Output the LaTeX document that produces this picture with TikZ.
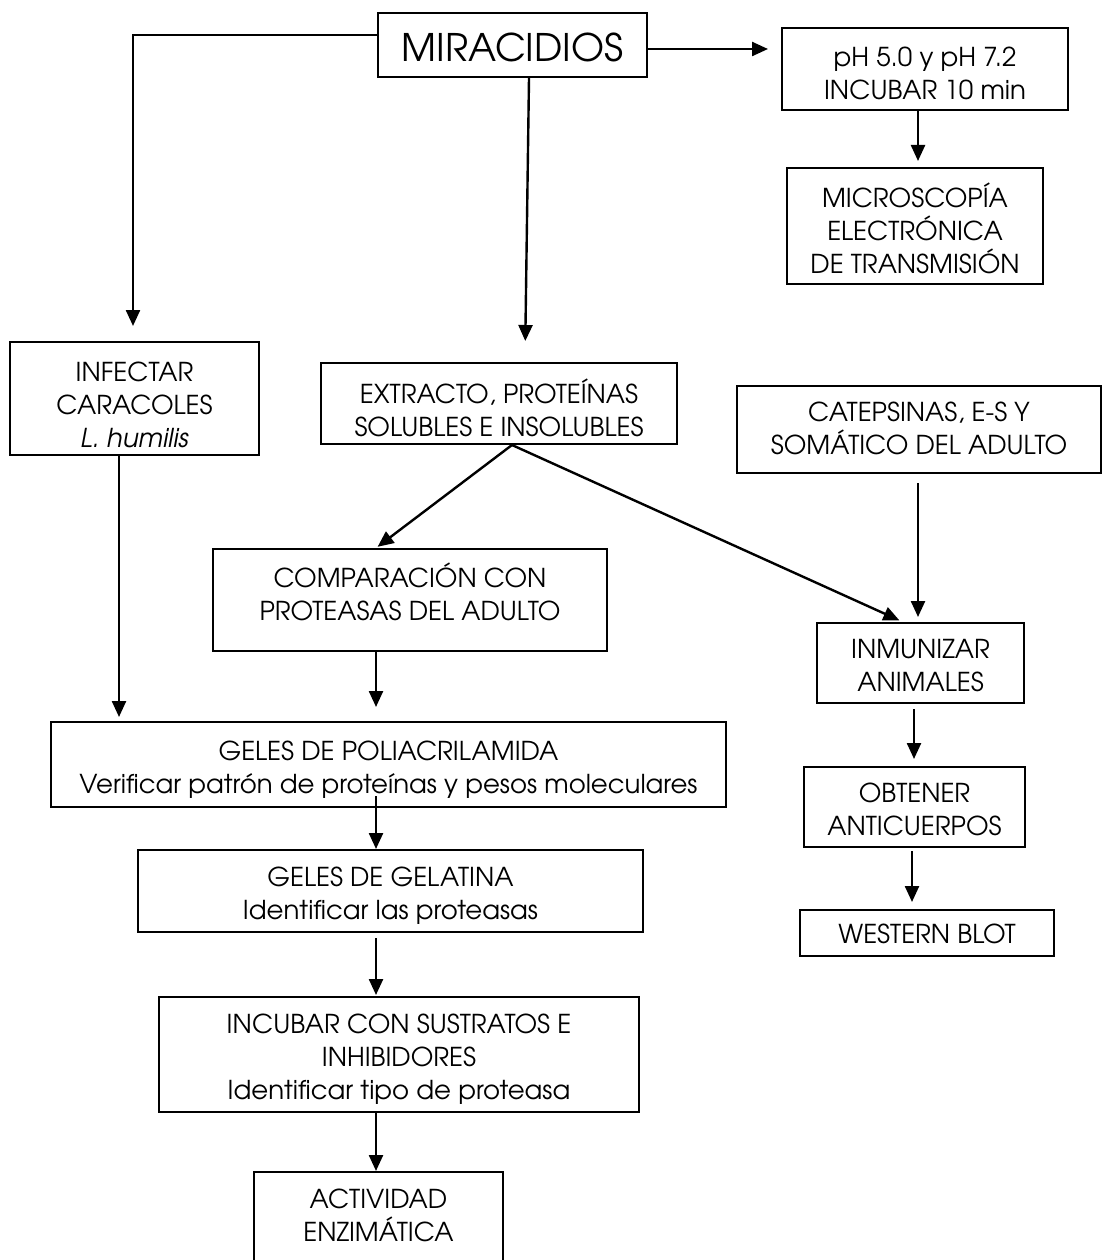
\documentclass[tikz,border=0pt]{standalone}
\usepackage{fontspec}
\setmainfont{texgyreadventor}[Extension=.otf, UprightFont=*-regular, ItalicFont=*-italic, BoldFont=*-bold, BoldItalicFont=*-bolditalic]
\usetikzlibrary{arrows.meta,calc}
\newcommand\lstrut{\rule[-8pt]{0pt}{25pt}}
\tikzset{
  box/.style={draw=black, line width=2pt, inner sep=0pt, rectangle},
  txt/.style={inner sep=0pt, align=center, font=\fontsize{26}{33}\selectfont},
  bigtxt/.style={inner sep=0pt, align=center, font=\fontsize{38}{44}\selectfont},
  arr/.style={line width=2.4pt, -{Triangle[length=16pt,width=14pt]}},
}
\begin{document}
\begin{tikzpicture}[x=1pt,y=-1pt]
\useasboundingbox (0,0) rectangle (1102,1260);
\clip (0,0) rectangle (1102,1260);
% boxes
\node[box, minimum width=269pt, minimum height=64pt] (mir) at (512.5,45) {};
\node[box, minimum width=286pt, minimum height=82pt] (ph) at (925,69) {};
\node[box, minimum width=256pt, minimum height=116pt] (mi) at (915,226) {};
\node[box, minimum width=249pt, minimum height=113pt] (inf) at (134.5,398.5) {};
\node[box, minimum width=356pt, minimum height=81pt] (ext) at (499,403.5) {};
\node[box, minimum width=364pt, minimum height=87pt] (cat) at (919,429.5) {};
\node[box, minimum width=394pt, minimum height=102pt] (comp) at (410,600) {};
\node[box, minimum width=207pt, minimum height=80pt] (inm) at (920.5,663) {};
\node[box, minimum width=221pt, minimum height=80pt] (obt) at (914.5,807) {};
\node[box, minimum width=254pt, minimum height=46pt] (wb) at (927,933) {};
\node[box, minimum width=675pt, minimum height=85pt] (poli) at (388.5,764.5) {};
\node[box, minimum width=505pt, minimum height=82pt] (gel) at (390.5,891) {};
\node[box, minimum width=480pt, minimum height=115pt] (inc) at (399,1054.5) {};
\node[box, minimum width=249pt, minimum height=103pt] (act) at (378.5,1223.5) {};
% texts
\node[bigtxt, anchor=base] (mir-t) at (512.5,62) {MIRACIDIOS};
\node[txt] (ph-t) at (925,77) {\lstrut pH 5.0 y pH 7.2\\\lstrut INCUBAR 10 min};
\node[txt] (mi-t) at (915,232) {\lstrut MICROSCOPÍA\\\lstrut ELECTRÓNICA\\\lstrut DE TRANSMISIÓN};
\node[txt] (inf-t) at (134.5,409) {\lstrut INFECTAR\\\lstrut CARACOLES\\\lstrut\textit{L. humilis}};
\node[txt] (ext-t) at (499,412) {\lstrut EXTRACTO, PROTEÍNAS\\\lstrut SOLUBLES E INSOLUBLES};
\node[txt] (cat-t) at (919,432) {\lstrut CATEPSINAS, E-S Y\\\lstrut SOMÁTICO DEL ADULTO};
\node[txt] (comp-t) at (410,596) {\lstrut COMPARACIÓN CON\\\lstrut PROTEASAS DEL ADULTO};
\node[txt] (inm-t) at (920.5,669) {\lstrut INMUNIZAR\\\lstrut ANIMALES};
\node[txt] (obt-t) at (914.5,813) {\lstrut OBTENER\\\lstrut ANTICUERPOS};
\node[txt] (wb-t) at (927,938) {\lstrut WESTERN BLOT};
\node[txt] (poli-t) at (388.5,771) {\lstrut GELES DE POLIACRILAMIDA\\\lstrut Verificar patrón de proteínas y pesos moleculares};
\node[txt] (gel-t) at (390.5,897) {\lstrut GELES DE GELATINA\\\lstrut Identificar las proteasas};
\node[txt] (inc-t) at (399,1061) {\lstrut INCUBAR CON SUSTRATOS E\\\lstrut INHIBIDORES\\\lstrut Identificar tipo de proteasa};
\node[txt] (act-t) at (378.5,1219) {\lstrut ACTIVIDAD\\\lstrut ENZIMÁTICA};
% connectors
\draw[arr, shorten >=15pt] ([yshift=10pt]mir.west) -| ([xshift=-1.5pt]inf.north);
\draw[arr, shorten >=21pt] ([xshift=16.5pt]mir.south) -- ([xshift=26pt]ext.north);
\draw[arr, shorten >=13pt] ([yshift=-4pt]mir.east) -- ([yshift=-4pt]mir.east -| ph.west);
\draw[arr, shorten >=6pt] ([xshift=-7pt]ph.south) -- ([xshift=-7pt]ph.south |- mi.north);
\draw[arr, shorten >=4pt] ([xshift=-15.5pt]inf.south) -- ([xshift=-15.5pt]inf.south |- poli.north);
\draw[arr, shorten >=2pt] ([xshift=13pt]ext.south) -- ([xshift=-34pt]comp.north);
\draw[arr, shorten >=4pt] ([xshift=13pt]ext.south) -- ([xshift=-17.5pt]inm.north);
\draw[arr, shorten <=9pt, shorten >=5pt] ([xshift=-1pt]cat.south) -- ([xshift=-1pt]cat.south |- inm.north);
\draw[arr, shorten <=5pt, shorten >=7pt] ([xshift=-6.5pt]inm.south) -- ([xshift=-6.5pt]inm.south |- obt.north);
\draw[arr, shorten <=3pt, shorten >=7pt] ([xshift=-2.5pt]obt.south) -- ([xshift=-2.5pt]obt.south |- wb.north);
\draw[arr, shorten >=14pt] ([xshift=-34pt]comp.south) -- ([xshift=-34pt]comp.south |- poli.north);
\draw[arr, shorten <=-12pt] ([xshift=-12.5pt]poli.south) -- ([xshift=-12.5pt]poli.south |- gel.north);
\draw[arr, shorten <=5pt, shorten >=1pt] ([xshift=-14.5pt]gel.south) -- ([xshift=-14.5pt]gel.south |- inc.north);
\draw[arr] ([xshift=-23pt]inc.south) -- ([xshift=-23pt]inc.south |- act.north);
\end{tikzpicture}
\end{document}
